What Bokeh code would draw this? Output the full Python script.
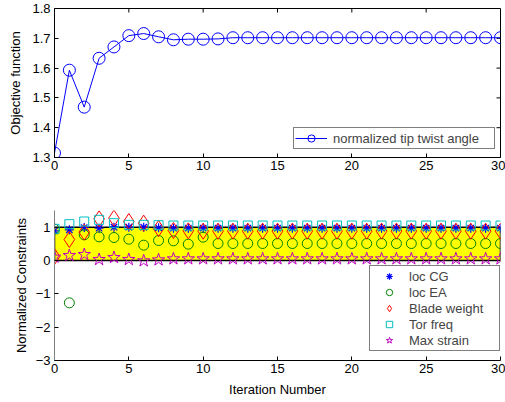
from bokeh.plotting import figure
from bokeh.layouts import column
from bokeh.models import (Range1d, FixedTicker, Legend, LegendItem, ColumnDataSource)
from bokeh.embed import file_html
from bokeh.resources import INLINE

FONT = "Liberation Sans"
FS = "13px"

# ---------------- data ----------------
iterations = list(range(31))
objective = [1.315, 1.593, 1.469, 1.633, 1.671, 1.709, 1.716, 1.705, 1.695, 1.697,
             1.697, 1.698] + [1.702] * 19

loc_cg = [0.89, 0.92, 0.99, 0.97, 1.00, 1.00, 1.00, 0.98, 0.97, 0.97] + [0.97] * 21
loc_ea = [0.94, -1.27, 0.77, 0.71, 0.69, 0.64, 0.46, 0.60, 0.59, 0.49, 0.70] + [0.51] * 20
blade_weight = [0.12, 0.63, 0.85, 1.25, 1.27, 1.17, 1.12, 0.96, 0.90, 0.89] + [0.88] * 21
tor_freq = [0.95, 1.09, 1.17, 1.22, 1.12, 1.07, 1.07, 1.06, 1.05, 1.05] + [1.05] * 21
max_strain = [0.10, 0.15, 0.18, 0.03, 0.09, 0.03, -0.01, 0.02, 0.05, 0.05] + [0.05] * 21

feasible_x = [0, 30]
feasible_y = [0, 1]

x_ticks = [0, 5, 10, 15, 20, 25, 30]
top_y_ticks = [1.3, 1.4, 1.5, 1.6, 1.7, 1.8]
bot_y_ticks = [-3, -2, -1, 0, 1]

X0, X1 = 0, 30
TY0, TY1 = 1.3, 1.8
BY0, BY1 = -3, 1.5
FW, FH1, FH2 = 446, 149, 150
TICK_PX = 4


def style_axis(ax, line_color="black"):
    ax.major_tick_in = TICK_PX
    ax.major_tick_out = 0
    ax.minor_tick_in = 0
    ax.minor_tick_out = 0
    ax.axis_line_color = line_color
    ax.major_tick_line_color = "black"
    ax.major_label_text_font = FONT
    ax.major_label_text_font_size = FS
    ax.major_label_text_color = "black"
    ax.axis_label_text_font = FONT
    ax.axis_label_text_font_size = FS
    ax.axis_label_text_font_style = "normal"
    ax.axis_label_text_color = "black"


# ---------------- top plot ----------------
p1 = figure(frame_width=FW, frame_height=FH1, output_backend="svg",
            toolbar_location=None, x_range=Range1d(X0, X1), y_range=Range1d(TY0, TY1),
            min_border_left=54, min_border_right=5, min_border_top=8,
            min_border_bottom=43)
p1.xgrid.visible = False
p1.ygrid.visible = False
p1.outline_line_color = "black"
p1.background_fill_color = "white"
p1.border_fill_color = "white"

p1.xaxis.ticker = FixedTicker(ticks=x_ticks)
p1.yaxis.ticker = FixedTicker(ticks=top_y_ticks)
p1.yaxis.axis_label = "Objective function"
for ax in p1.xaxis + p1.yaxis:
    style_axis(ax)
p1.xaxis.major_label_standoff = 3
p1.yaxis.major_label_standoff = 4
p1.yaxis.axis_label_standoff = 6

# mirror ticks (top and right edges of the box), tick length in data units
dy = TICK_PX * (TY1 - TY0) / FH1
dx = TICK_PX * (X1 - X0) / FW
inner_x = x_ticks[1:-1]
inner_y = top_y_ticks[1:-1]
p1.segment(x0=inner_x, x1=inner_x, y0=[TY1] * len(inner_x), y1=[TY1 - dy] * len(inner_x),
           line_color="black", line_width=1)
p1.segment(x0=[X1] * len(inner_y), x1=[X1 - dx] * len(inner_y), y0=inner_y, y1=inner_y,
           line_color="black", line_width=1)

src1 = ColumnDataSource(dict(x=iterations, y=objective))
r_line = p1.line("x", "y", source=src1, line_color="blue", line_width=1)
r_pts = p1.scatter("x", "y", source=src1, marker="circle", size=12,
                   line_color="blue", fill_color=None, line_width=1)

leg1 = Legend(items=[LegendItem(label="normalized tip twist angle",
                                renderers=[r_line, r_pts])],
              location=(239, 8))
leg1.padding = 1
leg1.margin = 0
leg1.spacing = 0
leg1.glyph_width = 32
leg1.glyph_height = 18
leg1.label_height = 18
leg1.label_standoff = 6
leg1.label_width = 160
leg1.label_text_font = FONT
leg1.label_text_font_size = FS
leg1.border_line_color = "black"
leg1.border_line_width = 1
leg1.background_fill_color = "white"
leg1.background_fill_alpha = 1
p1.add_layout(leg1)

# ---------------- bottom plot ----------------
p2 = figure(frame_width=FW, frame_height=FH2, output_backend="svg",
            toolbar_location=None, x_range=Range1d(X0, X1), y_range=Range1d(BY0, BY1),
            min_border_left=54, min_border_right=5, min_border_top=10,
            min_border_bottom=42)
p2.xgrid.visible = False
p2.ygrid.visible = False
p2.outline_line_color = None
p2.background_fill_color = "white"
p2.border_fill_color = "white"

p2.xaxis.ticker = FixedTicker(ticks=x_ticks)
p2.yaxis.ticker = FixedTicker(ticks=bot_y_ticks)
p2.yaxis.axis_label = "Normalized Constraints"
p2.xaxis.axis_label = "Iteration Number"
for ax in p2.xaxis:
    style_axis(ax)
for ax in p2.yaxis:
    style_axis(ax, line_color="#808080")
p2.xaxis.major_label_standoff = 3
p2.xaxis.axis_label_standoff = 6
p2.yaxis.major_label_standoff = 4
p2.yaxis.axis_label_standoff = 4

p2.quad(left=[feasible_x[0]], right=[feasible_x[1]], bottom=[feasible_y[0]],
        top=[feasible_y[1]], fill_color="yellow", line_color="black", line_width=1.5)

src2 = ColumnDataSource(dict(x=iterations, cg=loc_cg, ea=loc_ea, bw=blade_weight,
                             tf=tor_freq, ms=max_strain))
r_cg = p2.scatter("x", "cg", source=src2, marker="asterisk", size=9,
                  line_color="blue", line_width=1.2)
r_ea = p2.scatter("x", "ea", source=src2, marker="circle", size=10,
                  line_color="green", fill_color=None, line_width=1)
r_bw = p2.scatter("x", "bw", source=src2, marker="diamond", size=16,
                  line_color="red", fill_color=None, line_width=1)
r_tf = p2.scatter("x", "tf", source=src2, marker="square", size=9,
                  line_color="#00BFBF", fill_color=None, line_width=1)
r_ms = p2.scatter("x", "ms", source=src2, marker="star", size=13,
                  line_color="#BF00BF", fill_color=None, line_width=1)

leg2 = Legend(items=[LegendItem(label="loc CG", renderers=[r_cg]),
                     LegendItem(label="loc EA", renderers=[r_ea]),
                     LegendItem(label="Blade weight", renderers=[r_bw]),
                     LegendItem(label="Tor freq", renderers=[r_tf]),
                     LegendItem(label="Max strain", renderers=[r_ms])],
              location=(315, 9))
leg2.padding = 2
leg2.margin = 0
leg2.spacing = 0
leg2.glyph_width = 34
leg2.glyph_height = 16
leg2.label_height = 16
leg2.label_standoff = 3
leg2.label_width = 88
leg2.label_text_font = FONT
leg2.label_text_font_size = FS
leg2.border_line_color = "black"
leg2.border_line_width = 1.5
leg2.background_fill_color = "white"
leg2.background_fill_alpha = 1
p2.add_layout(leg2)

layout = column(p1, p2, spacing=0)

with open("out.html", "w") as f:
    f.write(file_html(layout, INLINE))
